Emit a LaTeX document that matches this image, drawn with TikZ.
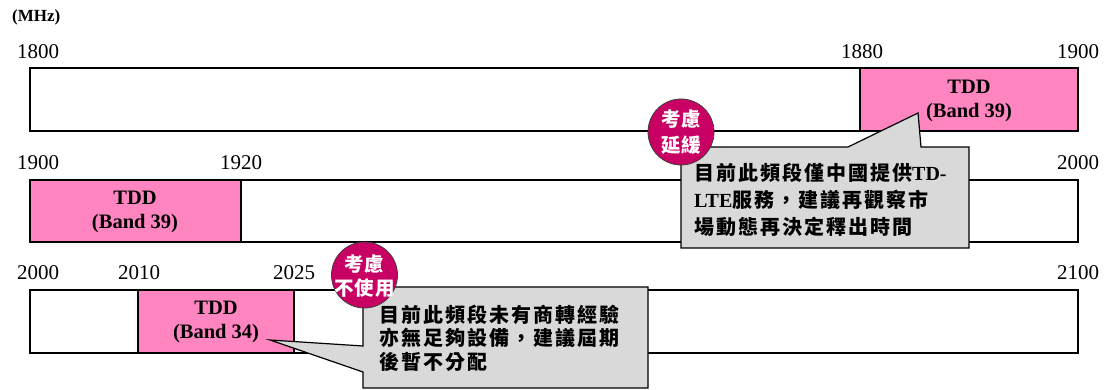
\documentclass[tikz,border=0pt]{standalone}
\usepackage{fontspec}
\setmainfont{Liberation Serif}
\newfontfamily\cjk{Noto Sans CJK TC}[LetterSpace=10]
\newfontfamily\cjkbadge{Noto Sans CJK TC}[LetterSpace=4]
\definecolor{bandpink}{RGB}{255,133,192}
\definecolor{badgered}{RGB}{200,0,100}
\definecolor{notegray}{RGB}{217,217,217}
\begin{document}
\begin{tikzpicture}[x=1pt,y=-1pt,
 bar/.style={draw=black,line width=1.2pt,fill=white},
 band/.style={draw=black,line width=1.2pt,fill=bandpink},
 freq/.style={font=\fontsize{21}{24}\selectfont,inner sep=0pt},
 tdd/.style={font=\fontsize{20.5}{23.5}\selectfont\bfseries,inner sep=0pt,align=center},
 note/.style={draw=black,line width=1.2pt,fill=notegray,line join=miter},
 notetext/.style={font=\fontsize{20}{22}\selectfont,anchor=west,inner sep=0pt},
 badge/.style={circle,draw=black!75,line width=0.8pt,fill=badgered,minimum size=66pt,inner sep=0pt},
 badgetext/.style={text=white,font=\cjkbadge\bfseries\fontsize{19.5}{22}\selectfont,inner sep=0pt}]
\useasboundingbox (0,0) rectangle (1110,390);
\node[font=\fontsize{17}{20}\selectfont\bfseries,anchor=west,inner sep=0pt] (mhz) at (12,17) {(MHz)};

% row 1
\draw[bar] (30,68) rectangle (1078,131);
\draw[band] (860,68) rectangle (1078,131);
\node[tdd] (t1) at (969,101) {TDD\\(Band 39)};
\node[freq] (f1800) at (38,52) {1800};
\node[freq] (f1880) at (862,52) {1880};
\node[freq] (f1900a) at (1078,52) {1900};

% row 2
\draw[bar] (30,180) rectangle (1078,242);
\draw[band] (30,180) rectangle (241,242);
\node[tdd] (t2) at (135,212) {TDD\\(Band 39)};
\node[freq] (f1900b) at (38,163) {1900};
\node[freq] (f1920) at (241,163) {1920};
\node[freq] (f2000a) at (1078,163) {2000};

% row 3
\draw[bar] (30,290) rectangle (1078,353);
\draw[band] (138,290) rectangle (294,353);
\node[tdd] (t3) at (216,322) {TDD\\(Band 34)};
\node[freq] (f2000b) at (38,273) {2000};
\node[freq] (f2010) at (139,273) {2010};
\node[freq] (f2025) at (294,273) {2025};
\node[freq] (f2100) at (1078,273) {2100};

% callout 1
\coordinate (tip1) at (918,113);
\draw[note] (681,147) -- (848,147) -- (tip1) -- (921,147) -- (969,147) -- (969,248) -- (681,248) -- cycle;
\node[notetext] (n1a) at (694,173) {{\cjk\bfseries 目前此頻段僅中國提供}{\bfseries TD-}};
\node[notetext] (n1b) at (694,200) {{\bfseries LTE}{\cjk\bfseries 服務，建議再觀察市}};
\node[notetext] (n1c) at (694,227) {{\cjk\bfseries 場動態再決定釋出時間}};

% callout 2
\coordinate (tip2) at (270,340);
\draw[note] (363,287) -- (648,287) -- (648,388) -- (363,388) -- (363,372) -- (tip2) -- (363,346) -- cycle;
\node[notetext] (n2a) at (379,315) {{\cjk\bfseries 目前此頻段未有商轉經驗}};
\node[notetext] (n2b) at (379,338) {{\cjk\bfseries 亦無足夠設備，建議屆期}};
\node[notetext] (n2c) at (379,362) {{\cjk\bfseries 後暫不分配}};

% badges
\node[badge] (b1) at (681,132) {};
\node[badgetext] (b1a) at (681,119) {考慮};
\node[badgetext] (b1b) at (681,145) {延緩};
\node[badge] (b2) at (364.5,275) {};
\node[badgetext] (b2a) at (364.5,264) {考慮};
\node[badgetext] (b2b) at (364.5,288) {不使用};
\end{tikzpicture}
\end{document}
